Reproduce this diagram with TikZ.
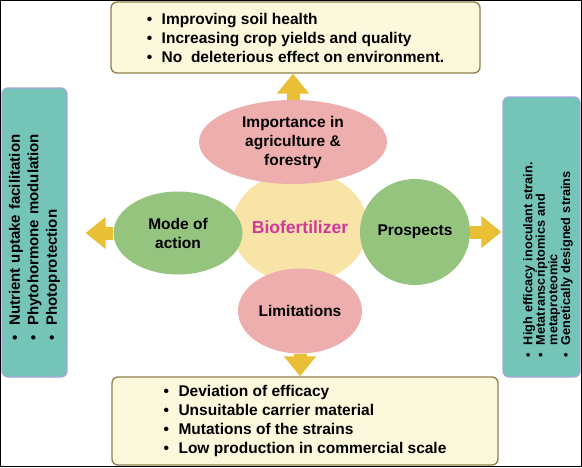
\documentclass[tikz,border=0pt]{standalone}
\usepackage{fontspec}
\setmainfont{Liberation Sans}
\usetikzlibrary{shapes.geometric, arrows.meta}

\definecolor{creamfill}{HTML}{FBF8DC}
\definecolor{boxbrown}{HTML}{8E7E4E}
\definecolor{tealfill}{HTML}{74C4B8}
\definecolor{lavender}{HTML}{A6A8DA}
\definecolor{pinkfill}{HTML}{EEAEAE}
\definecolor{greenfill}{HTML}{95C47F}
\definecolor{corefill}{HTML}{F9E4A8}
\definecolor{arrowgold}{HTML}{E9BF35}
\definecolor{biomagenta}{HTML}{D1389C}

\newcommand{\bul}[1][15pt]{\makebox[#1][l]{\textbullet}}

\begin{document}
\begin{tikzpicture}[x=1pt, y=-1pt,
  lbl/.style={font=\fontsize{15.5}{19}\selectfont\bfseries},
  notebox/.style={draw=boxbrown, fill=creamfill, line width=1.3pt, rounded corners=6pt,
    inner sep=0pt, lbl, align=left},
  sidebox/.style={draw=lavender, fill=tealfill, line width=1.3pt, rounded corners=6pt,
    inner sep=0pt, rotate=90, align=left},
  blob/.style={ellipse, inner sep=0pt, lbl, align=center},
  bigarrow/.style={draw=arrowgold, line width=13pt, -{Triangle[length=20pt, width=31pt]}}
]
\useasboundingbox (0,0) rectangle (582,467);
\draw[line width=1pt] (0.5,0.5) rectangle (581.5,466.5);

% --- outer boxes ---
\node[notebox, minimum width=369pt, minimum height=71pt] (tbox) at (295.5,37.5)
  {\bul Improving soil health\\ \bul Increasing crop yields and quality\\
   \bul No\ \ deleterious effect on environment.};
\node[notebox, minimum width=386pt, minimum height=88pt] (bbox) at (305,421)
  {\bul Deviation of efficacy\\ \bul Unsuitable carrier material\\
   \bul Mutations of the strains\\ \bul Low production in commercial scale};
\node[sidebox, font=\fontsize{15}{18.5}\selectfont\bfseries, minimum width=289pt,
  minimum height=65pt, text width=216pt] (lbox) at (34.5,232.5)
  {\bul Nutrient uptake facilitation\\ \bul Phytohormone modulation\\ \bul Photoprotection};
\node[sidebox, font=\fontsize{12.7}{12.6}\selectfont\bfseries, minimum width=280pt,
  minimum height=77pt, text width=240pt] (rbox) at (541.5,237)
  {\rule{0pt}{22pt}\bul[12pt]High efficacy inoculant strain.\\ \bul[12pt]Metatranscriptomics and\\
   \hspace*{12pt}metaproteomic\\ \bul[12pt]Genetically designed strains};

% --- centre and satellites ---
\node[blob, fill=corefill, minimum width=136pt, minimum height=112pt,
  font=\fontsize{17.5}{21}\selectfont\bfseries, text=biomagenta] (bio) at (300,227) {Biofertilizer};
\node[blob, fill=pinkfill, minimum width=188pt, minimum height=84pt] (imp) at (293,142)
  {Importance in\\ agriculture \&\\ forestry};
\node[blob, fill=greenfill, minimum width=129pt, minimum height=83pt] (moa) at (178,233)
  {Mode of\\ action};
\node[blob, fill=greenfill, minimum width=110pt, minimum height=106pt] (pro) at (415,232)
  {Prospects};
\node[blob, fill=pinkfill, minimum width=124pt, minimum height=85pt] (lim) at (300,311)
  {Limitations};

% --- arrows (side boxes are turned, so their page-facing sides are north/south) ---
\draw[bigarrow] (imp.north) -- (imp.north |- tbox.south);
\draw[bigarrow] (lim.south) -- (lim.south |- bbox.north);
\draw[bigarrow, shorten >=18pt] (moa.west) -- (moa.west -| lbox.south);
\draw[bigarrow, shorten >=1pt] (pro.east) -- (pro.east -| rbox.north);

\end{tikzpicture}
\end{document}
